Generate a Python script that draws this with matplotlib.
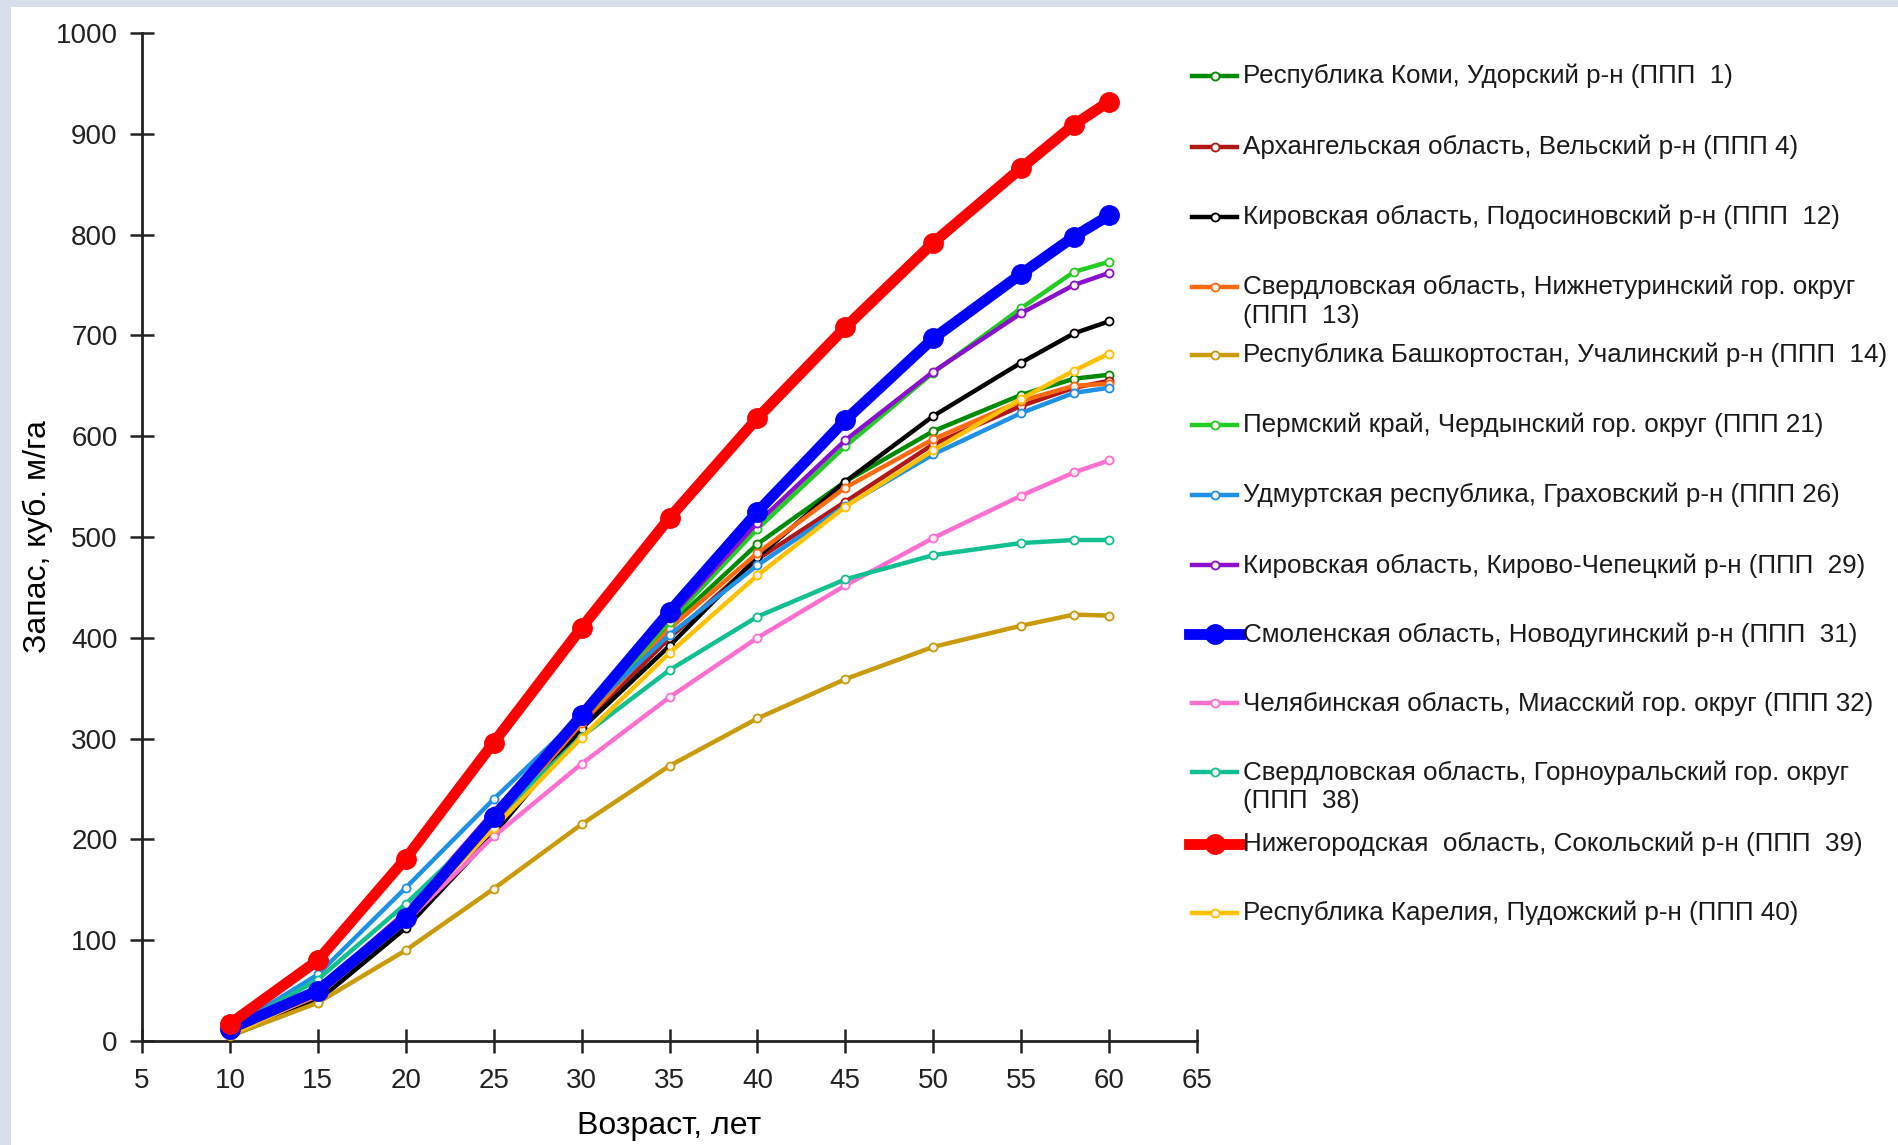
import matplotlib
matplotlib.use("Agg")
import matplotlib.pyplot as plt
from matplotlib.lines import Line2D
from matplotlib.patches import Rectangle

plt.rcParams['font.family'] = ['Liberation Sans', 'DejaVu Sans']

# ---------------- data ----------------
ages = [10, 15, 20, 25, 30, 35, 40, 45, 50, 55, 58, 60]

labels = [
    "Республика Коми, Удорский р-н (ППП  1)",
    "Архангельская область, Вельский р-н (ППП 4)",
    "Кировская область, Подосиновский р-н (ППП  12)",
    "Свердловская область, Нижнетуринский гор. округ\n(ППП  13)",
    "Республика Башкортостан, Учалинский р-н (ППП  14)",
    "Пермский край, Чердынский гор. округ (ППП 21)",
    "Удмуртская республика, Граховский р-н (ППП 26)",
    "Кировская область, Кирово-Чепецкий р-н (ППП  29)",
    "Смоленская область, Новодугинский р-н (ППП  31)",
    "Челябинская область, Миасский гор. округ (ППП 32)",
    "Свердловская область, Горноуральский гор. округ\n(ППП  38)",
    "Нижегородская  область, Сокольский р-н (ППП  39)",
    "Республика Карелия, Пудожский р-н (ППП 40)",
]

s1 = [8, 42, 118, 215, 318, 412, 493, 555, 605, 641, 657, 661]
s4 = [8, 45, 120, 215, 312, 400, 478, 535, 592, 630, 648, 655]
s12 = [5, 40, 112, 205, 310, 392, 480, 555, 620, 673, 702, 714]
s13 = [8, 45, 120, 215, 315, 409, 484, 549, 597, 635, 650, 652]
s14 = [5, 38, 90, 151, 215, 273, 320, 359, 391, 412, 423, 422]
s21 = [10, 50, 125, 222, 318, 416, 508, 590, 663, 727, 763, 773]
s26 = [12, 66, 152, 240, 323, 403, 472, 531, 582, 623, 643, 648]
s29 = [10, 52, 128, 228, 322, 420, 514, 596, 664, 722, 750, 762]
s31 = [12, 50, 122, 222, 323, 426, 525, 616, 697, 761, 798, 819]
s32 = [7, 46, 118, 203, 275, 341, 400, 452, 499, 541, 564, 576]
s38 = [11, 61, 136, 219, 302, 368, 421, 458, 482, 494, 497, 497]
s39 = [17, 80, 181, 296, 410, 519, 618, 708, 792, 866, 909, 932]
s40 = [6, 47, 122, 211, 301, 385, 462, 530, 586, 637, 665, 682]

series = [s1, s4, s12, s13, s14, s21, s26, s29, s31, s32, s38, s39, s40]
colors = ["#008A00", "#B01818", "#000000", "#FF6A10", "#C99A0A", "#22CC22",
          "#1E90E6", "#8B10CC", "#0000FF", "#FF6FCF", "#10C090", "#FF0000",
          "#FFC000"]
thick = [False] * 8 + [True, False, False, True, False]

xticks = list(range(5, 70, 5))
yticks = list(range(0, 1100, 100))

# ---------------- figure ----------------
W, H = 1898, 1145
fig = plt.figure(figsize=(W / 100, H / 100), dpi=100)
fig.patch.set_facecolor("#D6DEEA")
fig.add_artist(Rectangle((11 / W, 0), 1 - 11 / W, 1 - 7 / H,
                         transform=fig.transFigure, facecolor="white",
                         edgecolor="none", zorder=0))

x0, x1 = 142, 1197
y0, y1 = 1041, 33
ax = fig.add_axes([x0 / W, 1 - y0 / H, (x1 - x0) / W, (y0 - y1) / H])
ax.set_facecolor("none")

THIN_LW, THIN_MS = 3.2, 5.8
THICK_LW, THICK_MS = 7.8, 14

for vals, col, thk in zip(series, colors, thick):
    if thk:
        ax.plot(ages, vals, color=col, lw=THICK_LW, marker="o", ms=THICK_MS,
                mfc=col, mec=col, solid_capstyle="round", zorder=5,
                clip_on=False)
    else:
        ax.plot(ages, vals, color=col, lw=THIN_LW, marker="o", ms=THIN_MS,
                mfc="#FFF4F4", mec=col, mew=1.3, zorder=3, clip_on=False)

ax.set_xlim(5, 65)
ax.set_ylim(0, 1000)
ax.set_xticks(xticks)
ax.set_yticks(yticks)
for s in ["top", "right"]:
    ax.spines[s].set_visible(False)
for s in ["left", "bottom"]:
    ax.spines[s].set_linewidth(2)
    ax.spines[s].set_color("#222222")
ax.tick_params(axis="both", direction="inout", length=17, width=1.8,
               labelsize=20, colors="#222222", pad=9)
ax.tick_params(axis="x", pad=11)

ax.set_xlabel("Возраст, лет", fontsize=23, labelpad=12)
ax.set_ylabel("Запас, куб. м/га", fontsize=23, labelpad=2)

# ---------------- legend (manual, Excel-like uniform rows) ----------------
row_y = [76, 146.5, 216.7, 286.9, 354.7, 424.9, 495.1, 565.3, 634.3,
         703.3, 772.3, 843.7, 912.7]
hx0, hx1, tx = 1192, 1237, 1243
for lab, col, thk, py in zip(labels, colors, thick, row_y):
    fy = 1 - py / H
    if thk:
        ln = Line2D([(hx0 - 3) / W, (hx1 + 3) / W], [fy, fy], color=col,
                    lw=THICK_LW, transform=fig.transFigure)
        mk = Line2D([(hx0 + hx1) / 2 / W], [fy], color=col, marker="o",
                    ms=THICK_MS, mfc=col, mec=col, lw=0,
                    transform=fig.transFigure)
    else:
        ln = Line2D([hx0 / W, hx1 / W], [fy, fy], color=col, lw=THIN_LW,
                    transform=fig.transFigure)
        mk = Line2D([(hx0 + hx1) / 2 / W], [fy], marker="o", ms=THIN_MS,
                    mfc="#FFF4F4", mec=col, mew=1.3, lw=0,
                    transform=fig.transFigure)
    fig.add_artist(ln)
    fig.add_artist(mk)
    for k, t in enumerate(lab.split("\n")):
        fig.text(tx / W, 1 - (py + k * 29) / H, t, fontsize=18.7,
                 ha="left", va="center", color="#1a1a1a")

fig.savefig("out.png", dpi=100, facecolor=fig.get_facecolor())
